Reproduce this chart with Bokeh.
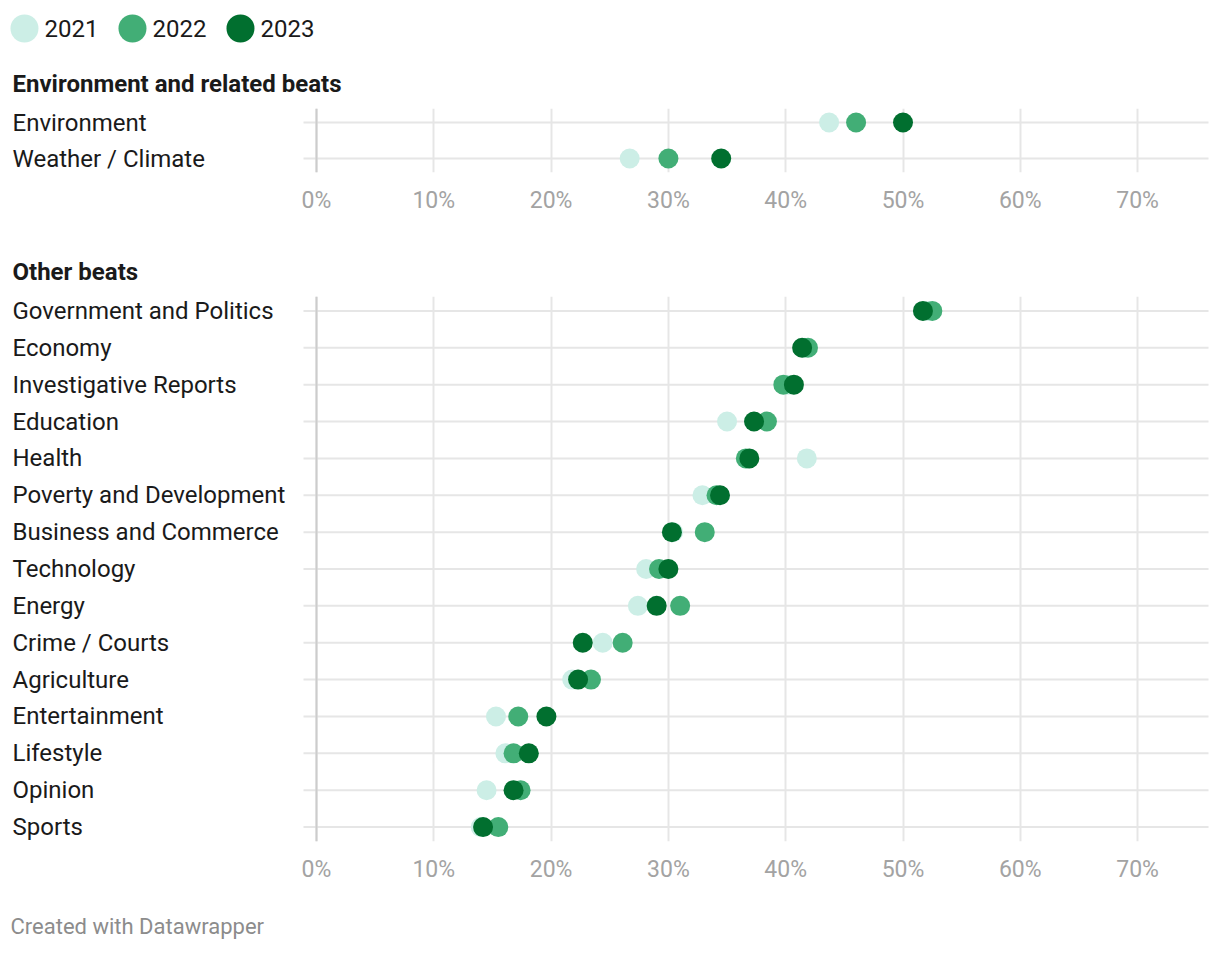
from bokeh.plotting import figure
from bokeh.models import ColumnDataSource, FactorRange, FixedTicker, Span, Range1d
from bokeh.layouts import column
from bokeh.embed import file_html
from bokeh.resources import INLINE
from bokeh.core.properties import value
from bokeh.transform import dodge

# ---------------- data ----------------
years = ["2021", "2022", "2023"]
colors = ["#cceee6", "#42ae76", "#016f2f"]

env_cats = ["Environment", "Weather / Climate"]
env_2021 = [43.7, 26.7]
env_2022 = [46.0, 30.0]
env_2023 = [50.0, 34.5]

other_cats = ["Government and Politics", "Economy", "Investigative Reports", "Education",
              "Health", "Poverty and Development", "Business and Commerce", "Technology",
              "Energy", "Crime / Courts", "Agriculture", "Entertainment", "Lifestyle",
              "Opinion", "Sports"]
other_2021 = [52.1, 41.6, 40.2, 35.0, 41.8, 32.9, 30.4, 28.1, 27.4, 24.4, 21.8, 15.3, 16.1, 14.5, 14.0]
other_2022 = [52.5, 41.9, 39.8, 38.4, 36.6, 34.1, 33.1, 29.2, 31.0, 26.1, 23.4, 17.2, 16.8, 17.4, 15.5]
other_2023 = [51.7, 41.4, 40.7, 37.3, 36.9, 34.4, 30.3, 30.0, 29.0, 22.7, 22.3, 19.6, 18.1, 16.8, 14.2]

tick_values = [0, 10, 20, 30, 40, 50, 60, 70]
tick_labels = ["0%", "10%", "20%", "30%", "40%", "50%", "60%", "70%"]

section_titles = ["Environment and related beats", "Other beats"]
footer_text = "Created with Datawrapper"

# ---------------- layout constants ----------------
M = 8                   # page margin
W = 1204                # frame width
PX_PER = 11.73          # px per percentage point
ZERO_PX = 308           # 0% position inside frame (page x 316)
X_START = -ZERO_PX / PX_PER
X_END = (W - ZERO_PX) / PX_PER
LABEL_X = (4 - ZERO_PX) / PX_PER
GRID_X0 = (295 - ZERO_PX) / PX_PER
GRID_X1 = (1200 - ZERO_PX) / PX_PER
ROW = 36.86
TRIM = 4                # px trimmed from each end of the row band
FONT = "Roboto"
GRID_COLOR = "#e6e6e6"
TEXT = "#1a1a1a"


def panel(cats, v21, v22, v23, title, top_border, row_h):
    n = len(cats)
    frame_h = int(round(n * row_h - 2 * TRIM))
    rp = -2.0 * TRIM / (n * row_h)
    bottom_border = 40 + TRIM
    p = figure(width=W + M, height=top_border + TRIM + frame_h + bottom_border,
               x_range=Range1d(X_START, X_END),
               y_range=FactorRange(factors=list(reversed(cats)), range_padding=rp),
               y_axis_location=None, toolbar_location=None, output_backend="svg",
               min_border_left=M, min_border_right=0,
               min_border_top=top_border + TRIM, min_border_bottom=bottom_border)
    p.outline_line_color = None
    p.background_fill_color = "white"
    p.border_fill_color = "white"
    p.ygrid.visible = False
    p.xgrid.ticker = FixedTicker(ticks=tick_values)
    p.xgrid.grid_line_color = GRID_COLOR
    p.xgrid.grid_line_width = 2

    p.xaxis.ticker = FixedTicker(ticks=tick_values)
    p.xaxis.major_label_overrides = {v: l for v, l in zip(tick_values, tick_labels)}
    p.xaxis.axis_line_color = None
    p.xaxis.major_tick_line_color = None
    p.xaxis.minor_tick_line_color = None
    p.xaxis.major_tick_out = 0
    p.xaxis.major_label_standoff = 10 + TRIM
    p.xaxis.major_label_text_color = "#a3a3a3"
    p.xaxis.major_label_text_font = FONT
    p.xaxis.major_label_text_font_size = "23px"

    p.title.text = title
    p.title.align = "left"
    p.title.offset = 4
    p.title.standoff = 22
    p.title.text_font = FONT
    p.title.text_font_style = "bold"
    p.title.text_font_size = "24px"
    p.title.text_color = TEXT

    src = ColumnDataSource(dict(cat=cats, v2021=v21, v2022=v22, v2023=v23,
                                gx0=[GRID_X0] * n, gx1=[GRID_X1] * n, lx=[LABEL_X] * n))
    p.segment(x0="gx0", x1="gx1", y0="cat", y1="cat", source=src,
              line_color=GRID_COLOR, line_width=2)
    p.add_layout(Span(location=0, dimension="height", line_color="#cccccc", line_width=2))
    for yr, col in zip(years, colors):
        p.scatter(x="v" + yr, y="cat", source=src, size=20, marker="circle",
                  fill_color=col, line_color=None)
    p.text(x="lx", y="cat", text="cat", source=src, text_align="left",
           text_baseline="middle", text_font=value(FONT),
           text_font_size=value("24px"), text_color=TEXT)
    return p


# legend figure
leg = figure(width=324 + M, height=40 + M, x_range=FactorRange(factors=years, range_padding=0),
             y_range=Range1d(0, 1), toolbar_location=None, output_backend="svg",
             x_axis_location=None, y_axis_location=None,
             min_border=0, min_border_left=M, min_border_right=0,
             min_border_top=M, min_border_bottom=0)
leg.outline_line_color = None
leg.xgrid.visible = False
leg.ygrid.visible = False
lsrc = ColumnDataSource(dict(year=years, color=colors, y=[0.5] * 3))
leg.scatter(x=dodge("year", -0.352, range=leg.x_range), y="y", source=lsrc,
            size=28, marker="circle", fill_color="color", line_color=None)
leg.text(x=dodge("year", -0.167, range=leg.x_range), y="y", text="year", source=lsrc,
         text_align="left", text_baseline="middle", text_font=value(FONT),
         text_font_size=value("24px"), text_color=TEXT)

top = panel(env_cats, env_2021, env_2022, env_2023, section_titles[0], 56, 36)
bottom = panel(other_cats, other_2021, other_2022, other_2023, section_titles[1], 76, ROW)

foot = figure(width=W + M, height=60, x_range=Range1d(0, W), y_range=Range1d(0, 60),
              toolbar_location=None, output_backend="svg",
              x_axis_location=None, y_axis_location=None, min_border=0,
              min_border_left=M, min_border_right=0, min_border_top=0, min_border_bottom=0)
foot.outline_line_color = None
foot.xgrid.visible = False
foot.ygrid.visible = False
foot.text(x=[2], y=[19], text=[footer_text], text_align="left", text_baseline="middle",
          text_font=value(FONT), text_font_size=value("22px"), text_color="#8c8c8c")

layout = column(leg, top, bottom, foot)
open("out.html", "w").write(file_html(layout, INLINE))
